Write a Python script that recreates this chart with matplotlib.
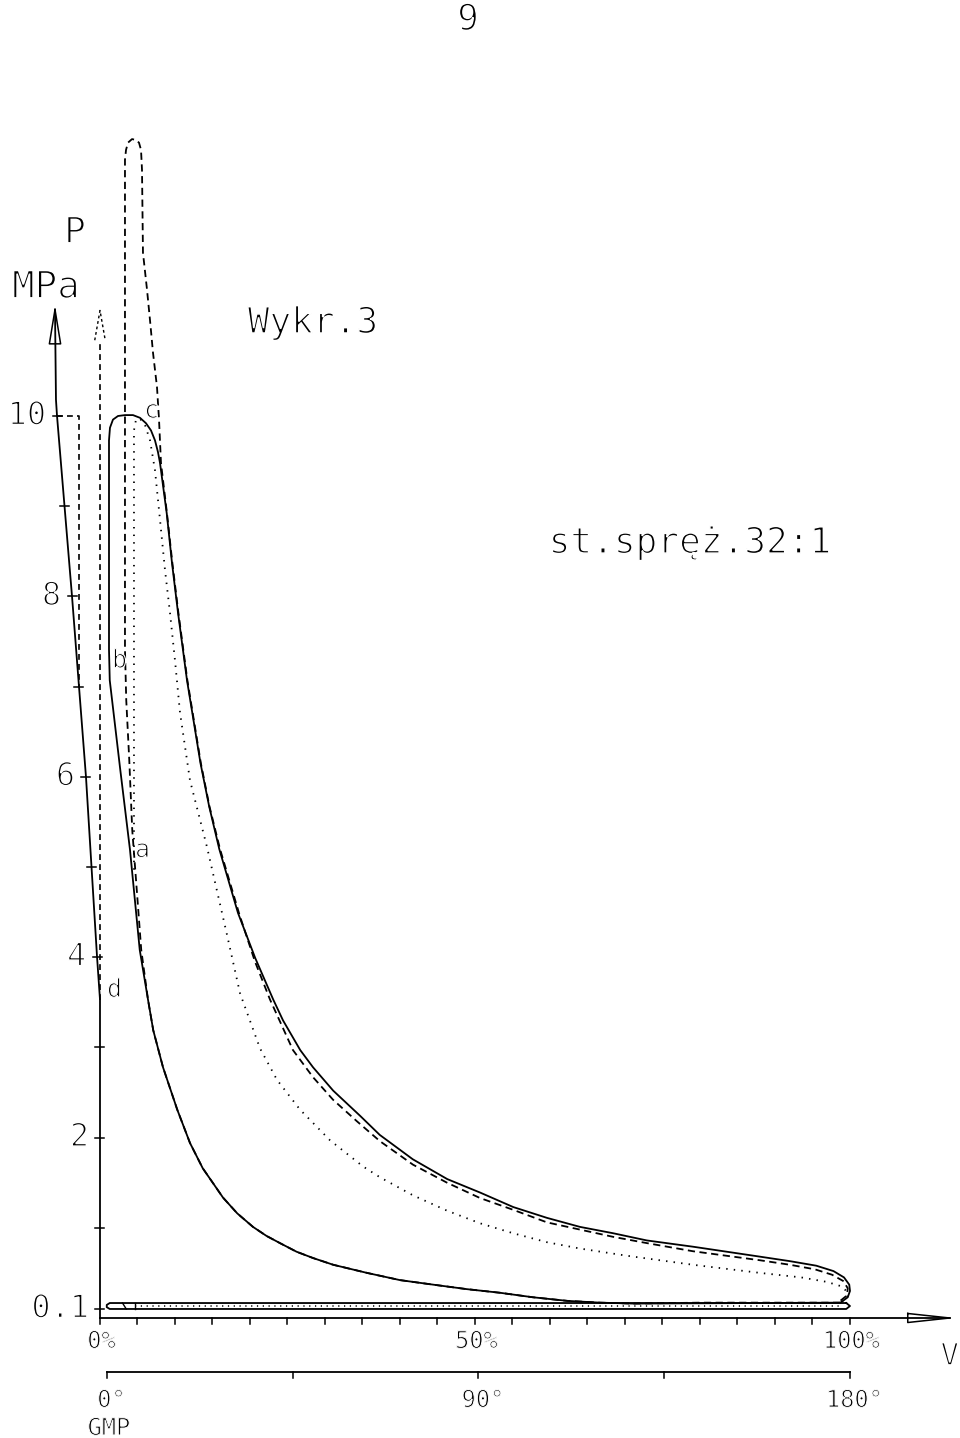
import numpy as np
import matplotlib.pyplot as plt
import matplotlib.patheffects as pe

# indicator diagram, V in % of stroke volume, P in MPa
solid_cycle = [
    (98.7, 0.17), (71.1, 0.16), (66.7, 0.17), (62.3, 0.19), (57.7, 0.23), (53.3, 0.28),
    (48.9, 0.32), (44.4, 0.37), (40.0, 0.42), (35.6, 0.50), (31.1, 0.59), (28.4, 0.665),
    (26.2, 0.735), (24.0, 0.83), (22.2, 0.91), (20.4, 1.01), (18.3, 1.16), (16.4, 1.335),
    (13.7, 1.66), (12.0, 1.94), (10.3, 2.31), (8.4, 2.78), (7.1, 3.19), (6.4, 3.53),
    (5.3, 4.08), (4.0, 5.19), (2.7, 6.08), (1.3, 7.07), (1.2, 7.41), (1.2, 9.73),
    (1.33, 9.87), (1.73, 9.96), (2.4, 10.0), (3.33, 10.01), (4.4, 10.01), (5.33, 9.98),
    (6.13, 9.92), (6.8, 9.84), (7.33, 9.73), (7.73, 9.60), (8.0, 9.48), (8.9, 8.92),
    (9.6, 8.37), (10.4, 7.82), (11.6, 7.07), (13.4, 6.15), (14.56, 5.67), (15.9, 5.2),
    (18.4, 4.49), (20.7, 3.99), (23.1, 3.53), (24.4, 3.30), (26.7, 2.97), (28.4, 2.78),
    (31.1, 2.52), (34.7, 2.24), (37.3, 2.03), (41.7, 1.76), (46.3, 1.54), (50.7, 1.39),
    (55.1, 1.23), (59.6, 1.11), (64.0, 1.01), (68.4, 0.94), (72.9, 0.86), (79.1, 0.79),
    (88.0, 0.68), (92.0, 0.63), (95.5, 0.58), (97.8, 0.52), (99.2, 0.45), (99.9, 0.37),
    (100.0, 0.30), (99.7, 0.23), (98.9, 0.18),
]

dashed_cycle = [
    (98.7, 0.17), (80.0, 0.17), (71.1, 0.16), (66.7, 0.17), (62.3, 0.19), (57.7, 0.23),
    (53.3, 0.28), (48.9, 0.32), (44.4, 0.37), (40.0, 0.42), (35.6, 0.50), (31.1, 0.59),
    (28.4, 0.665), (26.2, 0.735), (24.0, 0.83), (22.2, 0.91), (20.4, 1.01), (18.3, 1.16),
    (16.4, 1.335), (13.7, 1.66), (12.0, 1.94), (10.3, 2.31), (8.4, 2.78), (7.1, 3.19),
    (6.4, 3.53), (5.5, 4.08), (4.8, 4.86),
    (4.3, 5.41), (3.9, 6.19), (3.5, 6.85), (3.33, 7.41), (3.33, 12.84), (3.47, 12.95),
    (3.73, 13.03), (4.27, 13.07), (4.8, 13.06), (5.2, 13.03), (5.47, 12.95), (5.6, 12.73),
    (5.73, 11.81), (6.27, 11.40), (6.67, 11.06), (7.07, 10.70), (7.6, 10.32), (7.87, 9.96),
    (8.13, 9.48), (8.93, 8.92), (9.65, 8.37), (10.45, 7.82), (11.65, 7.07), (13.45, 6.15),
    (14.6, 5.67), (16.0, 5.2), (18.6, 4.47), (20.67, 3.95), (22.67, 3.53), (25.73, 2.97),
    (28.4, 2.67), (31.07, 2.42), (34.27, 2.18), (37.33, 1.96), (41.73, 1.70), (46.27, 1.50),
    (50.67, 1.33), (55.07, 1.20), (59.6, 1.06), (64.0, 0.98), (68.4, 0.90), (72.93, 0.83),
    (79.07, 0.74), (88.0, 0.64), (92.0, 0.59), (95.3, 0.54), (97.6, 0.48), (99.1, 0.41),
    (99.7, 0.33), (99.6, 0.25), (98.7, 0.19),
]

dotted_cycle = [
    (4.53, 4.97), (4.53, 9.84), (4.8, 9.96), (5.33, 9.97), (6.0, 9.90), (6.67, 9.73),
    (7.33, 9.40), (8.0, 8.85), (8.67, 8.29), (9.33, 7.82), (10.0, 7.29), (10.67, 6.71),
    (12.0, 5.96), (14.27, 5.22), (16.93, 4.25), (18.67, 3.60), (21.33, 2.99), (23.6, 2.64),
    (26.67, 2.31), (30.67, 1.97), (35.07, 1.68), (37.33, 1.56), (41.73, 1.36), (46.27, 1.19),
    (50.67, 1.05), (55.07, 0.94), (59.6, 0.84), (64.0, 0.77), (70.27, 0.69), (79.07, 0.59),
    (88.0, 0.50), (93.5, 0.45), (96.93, 0.40), (98.9, 0.35), (99.73, 0.28), (99.6, 0.22),
    (99.0, 0.18),
]

# gas exchange loop at the bottom
pump_loop = [
    (99.5, 0.166), (1.3, 0.166), (0.9, 0.145), (0.9, 0.12), (1.3, 0.10),
    (99.5, 0.10), (100.0, 0.133), (99.5, 0.166),
]
pump_dotted = [(4.67, 0.133), (98.7, 0.133)]

# the P axis as drawn (bent in its upper part)
axis_v = [-6.0, -5.87, -5.73, -3.73, -1.87, -0.4, 0.0, 0.0]
axis_p = [11.18, 10.18, 10.0, 8.0, 6.0, 4.01, 3.53, 0.0]

p_ticks = [10, 9, 8, 7, 6, 5, 4, 3, 2, 1, 0.1]
p_labels = [(10, "10"), (8, "8"), (6, "6"), (4, "4"), (2, "2"), (0.1, "0.1")]
v_ticks = list(range(0, 101, 5))
v_labels = [(0, "0%"), (50, "50%"), (100, "100%")]
crank_ticks = [0, 45, 90, 135, 180]
crank_labels = [(0, "0°"), (90, "90°"), (180, "180°")]
crank_v0, crank_v1 = 0.93, 100.0

points = [("c", 5.87, 9.98), ("b", 1.6, 7.21), ("a", 4.67, 5.11), ("d", 0.93, 3.56)]

fig = plt.figure(figsize=(9.6, 14.38), dpi=100)
ax = fig.add_axes([0, 0, 1, 1])
ax.set_xlim(-13.333, 114.667)
ax.set_ylim(-1.3304, 14.612)
ax.axis("off")

lw = 1.3
mono = "DejaVu Sans Mono"


def thin(w):
    # erode the glyphs a bit so the text looks like plotter lettering
    return [pe.Normal(), pe.PathPatchEffect(edgecolor="white", facecolor="none", linewidth=w)]


def label(x, y, s, size, ha="center", va="baseline", w=1.1):
    ax.text(x, y, s, fontsize=size, family=mono, ha=ha, va=va,
            path_effects=thin(w))


def xy(pairs):
    a = np.array(pairs)
    return a[:, 0], a[:, 1]


# curves
v, p = xy(solid_cycle)
ax.plot(v, p, color="black", lw=lw, solid_joinstyle="round")
v, p = xy(dashed_cycle)
ax.plot(v, p, color="black", lw=lw, linestyle=(0, (4, 2.5)))
v, p = xy(dotted_cycle)
ax.plot(v, p, color="black", lw=lw, linestyle=(0, (0.8, 3.4)))
v, p = xy(pump_loop)
ax.plot(v, p, color="black", lw=lw)
v, p = xy(pump_dotted)
ax.plot(v, p, color="black", lw=1.1, linestyle=(0, (0.8, 3.0)))
ax.plot([4.67, 4.67], [0.10, 0.166], color="black", lw=1.0)
ax.plot([3.0, 3.5], [0.166, 0.10], color="black", lw=1.0)

# P axis, ticks and labels
ax.plot(axis_v, axis_p, color="black", lw=lw)
ax.plot([axis_v[0], axis_v[0] - 0.75, axis_v[0] + 0.75, axis_v[0]],
        [axis_p[0], 10.8, 10.8, axis_p[0]], color="black", lw=1.1)
tick_v = np.interp(p_ticks, axis_p[::-1], axis_v[::-1])
for tv, tp in zip(tick_v, p_ticks):
    ax.plot([tv - 0.6, tv + 0.6], [tp, tp], color="black", lw=1.1)
for tp, s in p_labels:
    tv = np.interp(tp, axis_p[::-1], axis_v[::-1])
    label(tv - 1.45, tp, s, 23, ha="right", va="center")

# dashed guide lines near the P axis
ax.plot([-5.73, -2.8, -2.8], [10.0, 10.0, 7.0], color="black", lw=1.2,
        linestyle=(0, (3.5, 2.5)))
ax.plot([0, 0], [3.53, 10.84], color="black", lw=1.2, linestyle=(0, (3.5, 2.5)))
ax.plot([-0.7, 0, 0.7], [10.84, 11.17, 10.84], color="black", lw=1.0,
        linestyle=(0, (2, 2)))

# V axis
ax.plot([0, 113.3], [0, 0], color="black", lw=lw)
ax.plot([107.7, 113.3, 107.7, 107.7], [0.05, 0, -0.05, 0.05], color="black", lw=1.1)
for tv in v_ticks:
    ax.plot([tv, tv], [0, -0.065], color="black", lw=1.1)
for tv, s in v_labels:
    label(tv + 0.2, -0.333, s, 17, w=0.7)
label(113.3, -0.52, "V", 22)

# crank angle scale
ax.plot([crank_v0, crank_v1], [-0.599, -0.599], color="black", lw=lw)
for a in crank_ticks:
    cv = crank_v0 + a / 180 * (crank_v1 - crank_v0)
    ax.plot([cv, cv], [-0.599, -0.666], color="black", lw=1.1)
for a, s in crank_labels:
    cv = crank_v0 + a / 180 * (crank_v1 - crank_v0)
    label(cv + 0.6, -0.987, s, 17, w=0.7)
label(1.2, -1.297, "GMP", 17, w=0.7)

# point letters
for s, pv, pp in points:
    label(pv, pp, s, 18, ha="left", w=0.8)

# headings
label(49.07, 14.28, "9", 26)
label(-3.33, 11.92, "P", 26)
label(-7.2, 11.31, "MPa", 27)
label(28.4, 10.92, "Wykr.3", 26)
label(78.67, 8.48, "st.spręż.32:1", 26)

fig.savefig("out.png", dpi=100, facecolor="white")
